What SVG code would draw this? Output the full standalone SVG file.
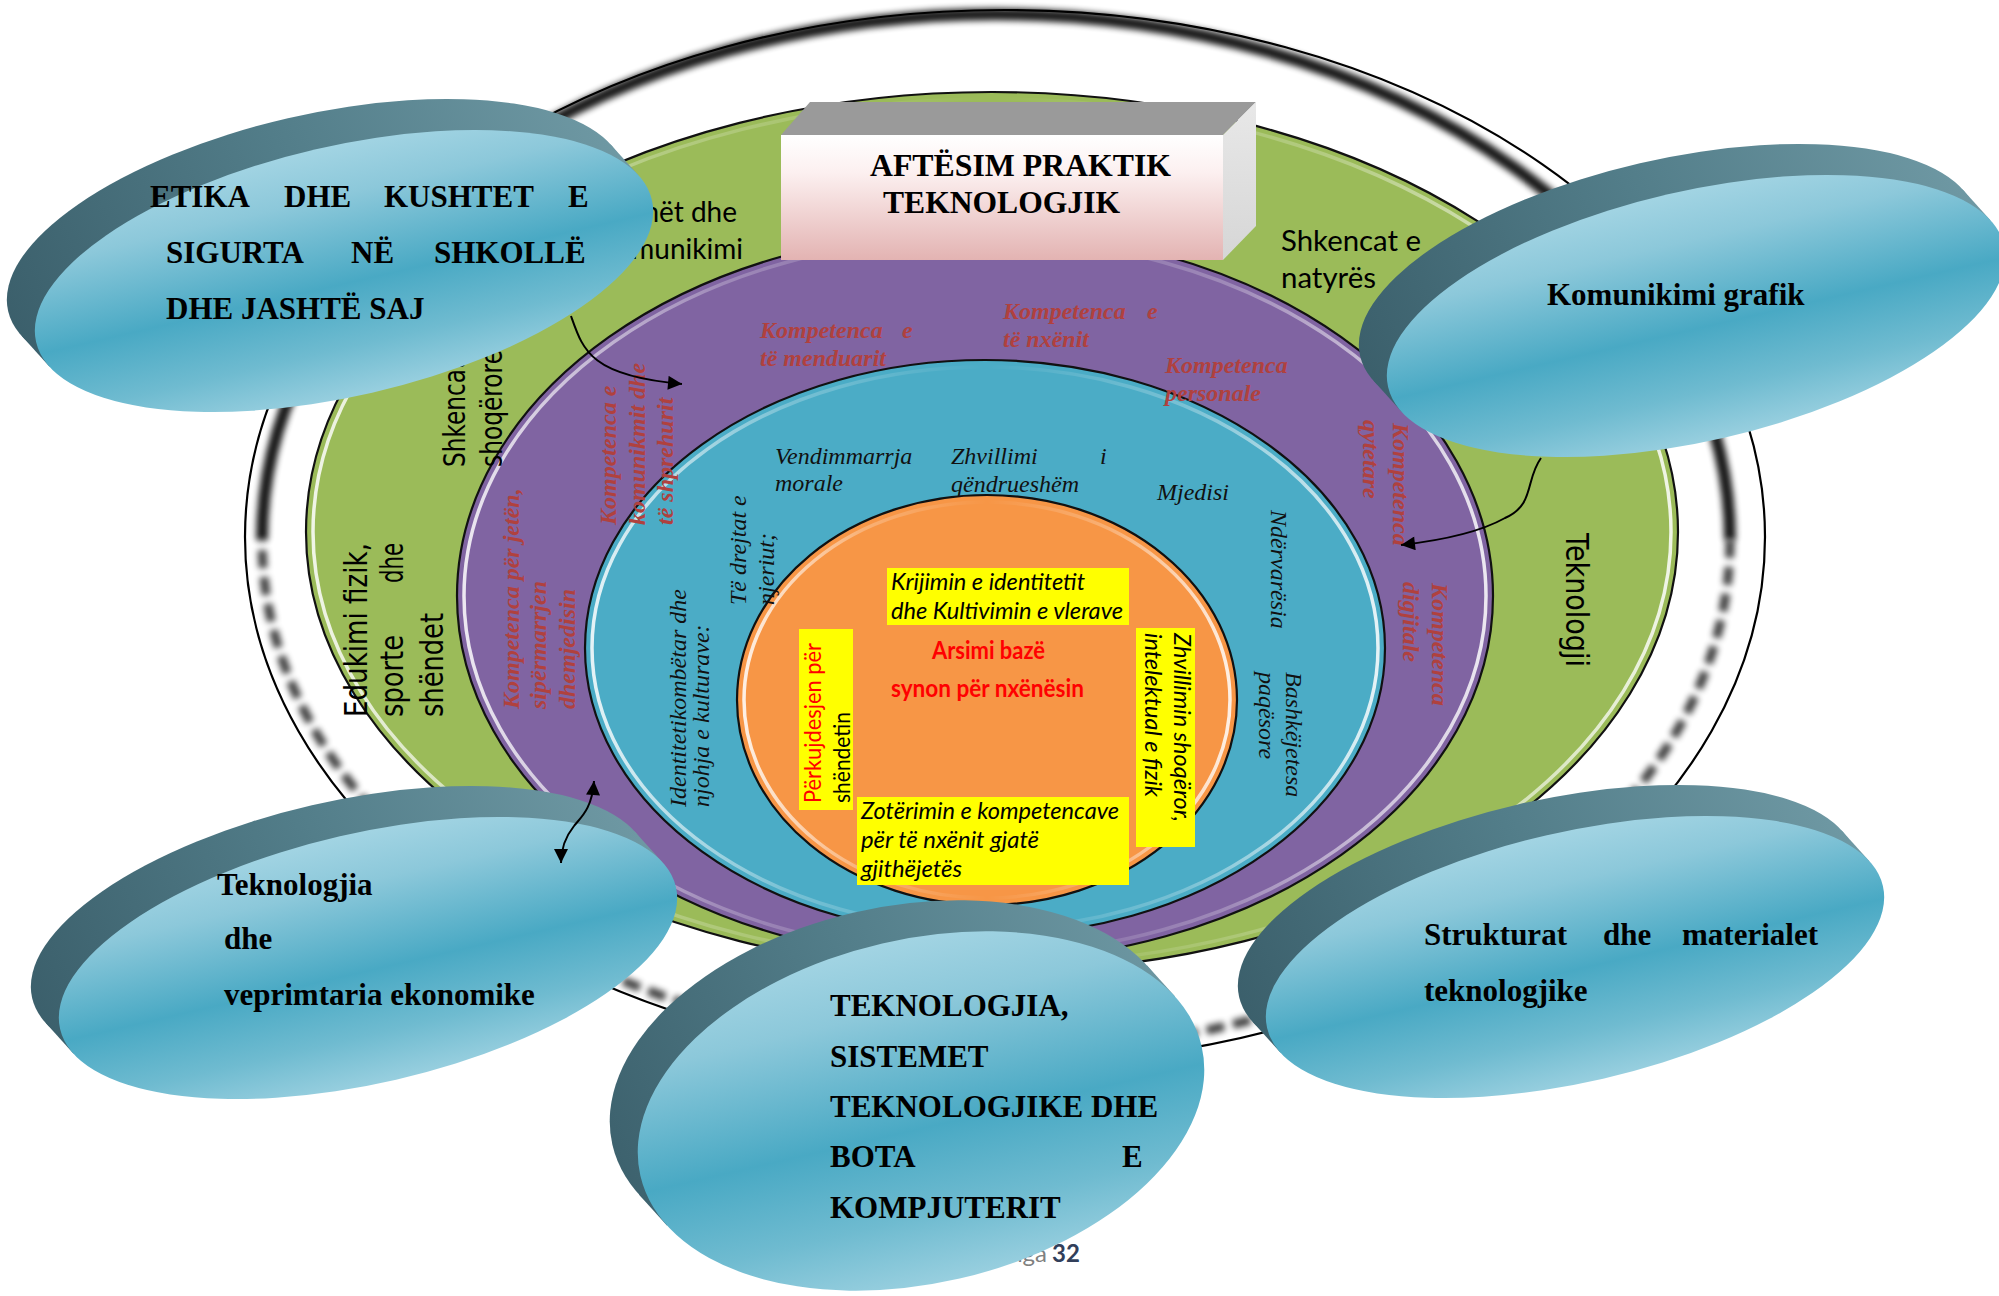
<svg xmlns="http://www.w3.org/2000/svg" width="1999" height="1296" viewBox="0 0 1999 1296">
<defs>
<style>
.ring{stroke:#111;stroke-width:2.2}
.hl{fill:none;stroke:url(#hlG);stroke-width:3.5}
.sans{font-family:"DejaVu Sans",Verdana,sans-serif;fill:#000}
.cal{font-family:Lato,"Liberation Sans",sans-serif;fill:#000}
.kom{font-family:"Liberation Serif","Times New Roman",serif;font-weight:bold;font-style:italic;font-size:24px;fill:#b0413e}
.val{font-family:"Liberation Serif","Times New Roman",serif;font-style:italic;font-size:24px;fill:#111}
.yb{fill:#ffff00}
.yt{font-family:Lato,"Liberation Sans",sans-serif;font-style:italic;font-size:23px;fill:#000}
.yu{font-family:Lato,"Liberation Sans",sans-serif;font-size:23px}
.dt{font-family:"Liberation Serif","Times New Roman",serif;font-weight:bold;font-size:31px;fill:#000}
.face{fill:url(#faceG)}
.side{fill:url(#sideG)}
.conn{fill:none;stroke:#000;stroke-width:2}
.smudge{fill:none;stroke:#000;filter:url(#blur)}
</style>
<linearGradient id="hlG" x1="0" y1="0" x2="1" y2="0">
<stop offset="0" stop-color="#fff" stop-opacity="0.85"/>
<stop offset="0.25" stop-color="#fff" stop-opacity="0.25"/>
<stop offset="0.5" stop-color="#fff" stop-opacity="0"/>
<stop offset="0.75" stop-color="#fff" stop-opacity="0.25"/>
<stop offset="1" stop-color="#fff" stop-opacity="0.85"/>
</linearGradient>
<linearGradient id="faceG" x1="0" y1="0" x2="0" y2="1">
<stop offset="0" stop-color="#a2d4e3"/>
<stop offset="0.2" stop-color="#8cc8da"/>
<stop offset="0.55" stop-color="#49a9c4"/>
<stop offset="0.8" stop-color="#6fbbd0"/>
<stop offset="1" stop-color="#98cfdf"/>
</linearGradient>
<linearGradient id="sideG" gradientUnits="userSpaceOnUse" x1="-330" y1="40" x2="300" y2="-80">
<stop offset="0" stop-color="#3b5f6b"/>
<stop offset="0.5" stop-color="#527d89"/>
<stop offset="1" stop-color="#6f99a4"/>
</linearGradient>
<linearGradient id="boxFront" x1="0" y1="0" x2="0" y2="1">
<stop offset="0" stop-color="#ffffff"/>
<stop offset="0.3" stop-color="#fcf0f0"/>
<stop offset="1" stop-color="#e3b3b2"/>
</linearGradient>
<linearGradient id="boxRight" x1="0" y1="0" x2="0" y2="1">
<stop offset="0" stop-color="#e8e8e8"/>
<stop offset="1" stop-color="#d6d6d6"/>
</linearGradient>
<filter id="blur" x="-10%" y="-10%" width="120%" height="120%">
<feGaussianBlur stdDeviation="3"/>
</filter>
<marker id="ah" viewBox="0 0 10 10" refX="10" refY="5" markerWidth="17" markerHeight="14" markerUnits="userSpaceOnUse" orient="auto-start-reverse">
<path d="M0,0 L10,5 L0,10 z" fill="#000"/>
</marker>
</defs>

<rect width="1999" height="1296" fill="#fff"/>

<g id="rings">
<ellipse cx="1005" cy="537" rx="760" ry="527" fill="#fff" stroke="#000" stroke-width="2.2"/>
<path class="smudge" stroke-width="12" opacity="0.9" d="M262,540 A734,526 0 0 1 1730,540"/>
<path class="smudge" stroke-width="9" opacity="0.75" stroke-dasharray="18 9" d="M1730,540 A734,512 0 0 1 262,540"/>
<ellipse class="ring" cx="992" cy="532" rx="686" ry="440" fill="#9bbb59"/>
<ellipse class="hl" cx="992" cy="532" rx="679" ry="433"/>
<ellipse class="ring" cx="975" cy="596" rx="518" ry="366" fill="#8064a2"/>
<ellipse class="hl" cx="975" cy="596" rx="511" ry="359"/>
<ellipse class="ring" cx="985" cy="648" rx="400" ry="288" fill="#4bacc6"/>
<ellipse class="hl" cx="985" cy="648" rx="393" ry="281"/>
<ellipse class="ring" cx="987" cy="700" rx="250" ry="205" fill="#f79646"/>
<ellipse class="hl" cx="987" cy="700" rx="243" ry="198"/>
</g>

<g id="subject-texts">
<text class="cal" font-size="28" text-anchor="end"><tspan x="737" y="222">Gjuhët dhe</tspan><tspan x="743" y="259">komunikimi</tspan></text>
<text class="cal" font-size="28"><tspan x="1281" y="251" textLength="140" lengthAdjust="spacingAndGlyphs">Shkencat e</tspan><tspan x="1281" y="288" textLength="95" lengthAdjust="spacingAndGlyphs">natyrës</tspan></text>
<text class="sans" font-size="32" transform="translate(1566,533) rotate(90)" textLength="134" lengthAdjust="spacingAndGlyphs">Teknologji</text>
<text class="sans" font-size="32" transform="translate(367,717) rotate(-90)" textLength="174" lengthAdjust="spacingAndGlyphs">Edukimi fizik,</text>
<text class="sans" font-size="32" transform="translate(403,717) rotate(-90)" textLength="82" lengthAdjust="spacingAndGlyphs">sporte</text>
<text class="sans" font-size="32" transform="translate(403,583) rotate(-90)" textLength="40" lengthAdjust="spacingAndGlyphs">dhe</text>
<text class="sans" font-size="32" transform="translate(443,717) rotate(-90)" textLength="104" lengthAdjust="spacingAndGlyphs">shëndet</text>
<text class="sans" font-size="30" transform="translate(465,467) rotate(-90)" textLength="107" lengthAdjust="spacingAndGlyphs">Shkencat</text>
<text class="sans" font-size="30" transform="translate(502,467) rotate(-90)" textLength="117" lengthAdjust="spacingAndGlyphs">shoqërore</text>
</g>

<g id="competence-texts">
<text class="kom"><tspan x="760" y="338">Kompetenca</tspan><tspan x="902" y="338">e</tspan><tspan x="760" y="366">të menduarit</tspan></text>
<text class="kom"><tspan x="1003" y="319">Kompetenca</tspan><tspan x="1147" y="319">e</tspan><tspan x="1003" y="347">të nxënit</tspan></text>
<text class="kom"><tspan x="1165" y="373">Kompetenca</tspan><tspan x="1165" y="401">personale</tspan></text>
<text class="kom" transform="translate(1393,423) rotate(90)">Kompetenca</text>
<text class="kom" transform="translate(1363,420) rotate(90)">qytetare</text>
<text class="kom" transform="translate(1432,583) rotate(90)">Kompetenca</text>
<text class="kom" transform="translate(1403,582) rotate(90)">digjitale</text>
<text class="kom" transform="translate(519,709) rotate(-90)">Kompetenca për jetën,</text>
<text class="kom" transform="translate(546,709) rotate(-90)">sipërmarrjen</text>
<text class="kom" transform="translate(575,709) rotate(-90)">dhemjedisin</text>
<text class="kom" transform="translate(616,525) rotate(-90)">Kompetenca e</text>
<text class="kom" transform="translate(645,525) rotate(-90)">komunikmit dhe</text>
<text class="kom" transform="translate(673,525) rotate(-90)">të shprehurit</text>
</g>

<g id="value-texts">
<text class="val"><tspan x="775" y="464">Vendimmarrja</tspan><tspan x="775" y="491">morale</tspan></text>
<text class="val"><tspan x="951" y="464">Zhvillimi</tspan><tspan x="1100" y="464">i</tspan><tspan x="951" y="492">qëndrueshëm</tspan></text>
<text class="val" x="1157" y="500">Mjedisi</text>
<text class="val" transform="translate(746,605) rotate(-90)">Të drejtat e</text>
<text class="val" transform="translate(774,605) rotate(-90)">njeriut;</text>
<text class="val" font-size="21.5" transform="translate(686,807) rotate(-90)">Identitetikombëtar dhe</text>
<text class="val" font-size="21.5" transform="translate(709,807) rotate(-90)">njohja e kulturave:</text>
<text class="val" transform="translate(1271,510) rotate(90)">Ndërvarësia</text>
<text class="val" transform="translate(1286,672) rotate(90)">Bashkëjetesa</text>
<text class="val" transform="translate(1259,672) rotate(90)">paqësore</text>
</g>

<g id="core">
<rect class="yb" x="887" y="568" width="242" height="57"/>
<text class="yt"><tspan x="891" y="590" textLength="194" lengthAdjust="spacingAndGlyphs">Krijimin e identitetit</tspan><tspan x="891" y="619" textLength="232" lengthAdjust="spacingAndGlyphs">dhe Kultivimin e vlerave</tspan></text>
<rect class="yb" x="799" y="629" width="54" height="181"/>
<text class="yu" fill="#ff0000" transform="translate(821,803) rotate(-90)" textLength="160" lengthAdjust="spacingAndGlyphs">Përkujdesjen për</text>
<text class="yu" fill="#000" transform="translate(850,803) rotate(-90)" textLength="91" lengthAdjust="spacingAndGlyphs">shëndetin</text>
<text font-family="Lato,'Liberation Sans',sans-serif" font-weight="bold" font-size="24" fill="#ff0000"><tspan x="932" y="659" textLength="113" lengthAdjust="spacingAndGlyphs">Arsimi bazë</tspan><tspan x="891" y="697" textLength="193" lengthAdjust="spacingAndGlyphs">synon për nxënësin</tspan></text>
<rect class="yb" x="1136" y="628" width="59" height="219"/>
<text class="yt" transform="translate(1174,633) rotate(90)" textLength="189" lengthAdjust="spacingAndGlyphs">Zhvillimin shoqëror,</text>
<text class="yt" transform="translate(1145,633) rotate(90)" textLength="164" lengthAdjust="spacingAndGlyphs">intelektual e fizik</text>
<rect class="yb" x="857" y="797" width="272" height="88"/>
<text class="yt"><tspan x="861" y="819" textLength="258" lengthAdjust="spacingAndGlyphs">Zotërimin e kompetencave</tspan><tspan x="861" y="848" textLength="178" lengthAdjust="spacingAndGlyphs">për të nxënit gjatë</tspan><tspan x="861" y="877" textLength="101" lengthAdjust="spacingAndGlyphs">gjithëjetës</tspan></text>
</g>

<g id="title-box">
<polygon points="781,135 810,102 1256,102 1223,135" fill="#9a9a9a"/>
<polygon points="1223,135 1256,102 1256,226 1223,260" fill="url(#boxRight)"/>
<rect x="781" y="135" width="442" height="125" fill="url(#boxFront)"/>
<text class="dt" font-size="31"><tspan x="870" y="176" textLength="301" lengthAdjust="spacingAndGlyphs">AFTËSIM PRAKTIK</tspan><tspan x="883" y="213" textLength="237" lengthAdjust="spacingAndGlyphs">TEKNOLOGJIK</tspan></text>
</g>

<g id="footer">
<text font-family="Lato,'Liberation Sans',sans-serif" font-size="24" fill="#808080" text-anchor="end" x="1047" y="1262">nga</text>
<text font-family="Lato,'Liberation Sans',sans-serif" font-size="24" font-weight="bold" fill="#323f5a" x="1052" y="1262">32</text>
</g>

<g id="disc-etika">
<g transform="translate(344,271) rotate(-13)">
<ellipse class="side" cx="-20.3" cy="-36.5" rx="316" ry="125"/>
<polygon class="side" points="308.6,-26.8 288.3,-63.3 -328.9,-9.7 -308.6,26.8"/>
<ellipse class="face" rx="316" ry="125"/>
</g>
<text class="dt"><tspan x="150" y="207">ETIKA</tspan><tspan x="284" y="207">DHE</tspan><tspan x="384" y="207">KUSHTET</tspan><tspan x="568" y="207">E</tspan><tspan x="166" y="263">SIGURTA</tspan><tspan x="351" y="263">NË</tspan><tspan x="434" y="263">SHKOLLË</tspan><tspan x="166" y="319">DHE JASHTË SAJ</tspan></text>
</g>

<g id="disc-komunikimi">
<g transform="translate(1696,316) rotate(-13)">
<ellipse class="side" cx="-20.3" cy="-36.5" rx="316" ry="125"/>
<polygon class="side" points="308.6,-26.8 288.3,-63.3 -328.9,-9.7 -308.6,26.8"/>
<ellipse class="face" rx="316" ry="125"/>
</g>
<text class="dt" x="1547" y="305">Komunikimi grafik</text>
</g>

<g id="disc-ekonomike">
<g transform="translate(368,958) rotate(-13)">
<ellipse class="side" cx="-20.3" cy="-36.5" rx="316" ry="125"/>
<polygon class="side" points="308.6,-26.8 288.3,-63.3 -328.9,-9.7 -308.6,26.8"/>
<ellipse class="face" rx="316" ry="125"/>
</g>
<text class="dt"><tspan x="217" y="895">Teknologjia</tspan><tspan x="224" y="949">dhe</tspan><tspan x="224" y="1005">veprimtaria ekonomike</tspan></text>
</g>

<g id="disc-strukturat">
<g transform="translate(1575,957) rotate(-13)">
<ellipse class="side" cx="-20.3" cy="-36.5" rx="316" ry="125"/>
<polygon class="side" points="308.6,-26.8 288.3,-63.3 -328.9,-9.7 -308.6,26.8"/>
<ellipse class="face" rx="316" ry="125"/>
</g>
<text class="dt"><tspan x="1424" y="945">Strukturat</tspan><tspan x="1603" y="945">dhe</tspan><tspan x="1682" y="945">materialet</tspan><tspan x="1424" y="1001">teknologjike</tspan></text>
</g>

<g id="disc-sistemet">
<g transform="translate(921,1111) rotate(-13)">
<ellipse class="side" cx="-20.3" cy="-36.5" rx="288" ry="172"/>
<polygon class="side" points="273.3,-54.3 253,-90.8 -293.6,17.8 -273.3,54.3"/>
<ellipse class="face" rx="288" ry="172"/>
</g>
<text class="dt" font-size="29.5"><tspan x="830" y="1016">TEKNOLOGJIA,</tspan><tspan x="830" y="1067">SISTEMET</tspan><tspan x="830" y="1117">TEKNOLOGJIKE DHE</tspan><tspan x="830" y="1167">BOTA</tspan><tspan x="1122" y="1167">E</tspan><tspan x="830" y="1218">KOMPJUTERIT</tspan></text>
</g>

<g id="connectors">
<path class="conn" d="M571,316 C583,350 590,376 682,384" marker-end="url(#ah)"/>
<path class="conn" d="M1541,458 C1525,480 1535,505 1505,518 C1480,532 1445,540 1401,545" marker-end="url(#ah)"/>
<path class="conn" d="M594,781 C592,810 580,818 574,826 C566,836 561,848 561,863" marker-start="url(#ah)" marker-end="url(#ah)"/>
</g>
</svg>
